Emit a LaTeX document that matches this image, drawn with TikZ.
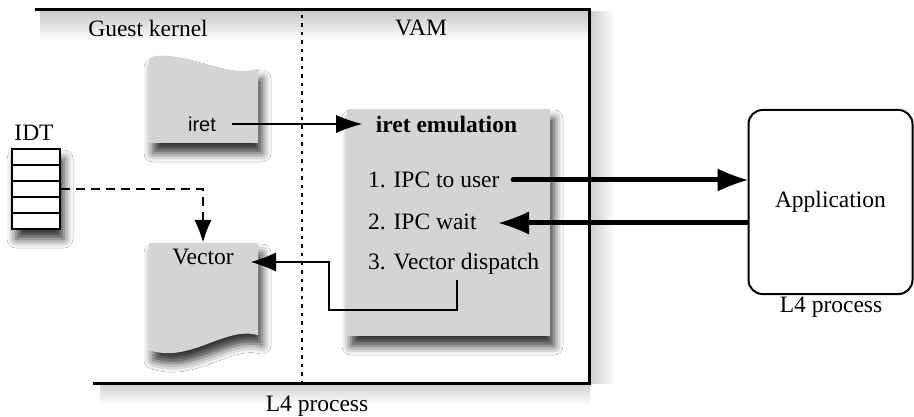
\documentclass[tikz,border=0pt]{standalone}
\usepackage{fontspec}
\setmainfont{Liberation Serif}
\newfontfamily\sansf{Liberation Sans}
\usetikzlibrary{arrows.meta,shadows.blur}
\definecolor{docgray}{RGB}{212,212,212}
\begin{document}
\begin{tikzpicture}[x=1pt,y=-1pt,
  txt/.style={font=\fontsize{23.5}{27}\selectfont, inner sep=0pt},
  shad/.style={blur shadow={shadow xshift=4pt, shadow yshift=-10pt, shadow blur radius=9pt, shadow opacity=80}},
  docshape/.style={fill=docgray, shad},
  frame/.style={line width=3pt},
  idtcell/.style={draw, line width=2.5pt, minimum width=48pt, minimum height=16pt, inner sep=0pt, fill=white},
  thin arrow/.style={line width=2pt, -{Latex[length=26pt,width=18pt,fill=black,line width=0pt]}},
  thick arrow/.style={line width=5pt, -{Latex[length=30pt,width=23pt,fill=black,line width=0pt]}},
  app/.style={draw, line width=2pt, rounded corners=14pt, minimum width=164pt, minimum height=184pt, inner sep=0pt}
]
\useasboundingbox (0,0) rectangle (914,417);
\fill[white] (0,0) rectangle (914,417);

% frame shadows
\shade[top color=black!22, bottom color=white] (40,11) rectangle (589,40);
\shade[left color=black!20, right color=white] (590,12) rectangle (614,383);
\shade[top color=black!18, bottom color=white] (100,384) rectangle (590,405);
% L4 process frame (open at left)
\draw[frame] (35,10) -- (589,10) -- (589,383) -- (93,383);

% dotted separator
\draw[line width=2.5pt, dash pattern=on 3.5pt off 5pt] (302,15) -- (302,385);

% headings
\node[txt] (gk) at (148,28) {Guest kernel};
\node[txt] (vam) at (421,28) {VAM};
\node[txt] (l4a) at (317,406) {L4 process};

% iret document shape
\path[docshape] (149,143) -- (149,58) .. controls (176,47) and (222,79) .. (258,69) -- (258,143) -- cycle;
\node[inner sep=0pt, font=\sansf\fontsize{20}{24}\selectfont] (iret) at (202,124) {iret};

% Vector document shape
\path[docshape] (149,243) -- (258,243) -- (258,335) .. controls (224,326) and (190,364) .. (149,350) -- cycle;
\node[txt] (vec) at (203,257) {Vector};

% iret emulation box
\path[docshape] (347,109) rectangle (550,336);
\node[txt, font=\bfseries\fontsize{23.5}{27}\selectfont] (emt) at (446.5,124) {iret emulation};
\node[txt, anchor=west] (s1) at (368,180) {1. IPC to user};
\node[txt, anchor=west] (s2) at (368,222) {2. IPC wait};
\node[txt, anchor=west] (s3) at (368,264) {3. Vector dispatch};

% IDT
\path[shad] (12,149) rectangle (60,229);
\node[idtcell] (idt1) at (36,157) {};
\node[idtcell] (idt2) at (36,173) {};
\node[idtcell] (idt3) at (36,189) {};
\node[idtcell] (idt4) at (36,205) {};
\node[idtcell] (idt5) at (36,221) {};
\node[txt] (idt) at (34,133) {IDT};

% Application
\node[app, txt, draw, line width=2pt] (appl) at (830.5,202) {Application};
\node[txt] (l4b) at (831,307) {L4 process};

% connectors
\coordinate (iretend) at (362,124);
\draw[thin arrow] ([xshift=16pt]iret.east) -- (iretend);

\coordinate (s1start) at (513,180);
\draw[thick arrow, line cap=round] (s1start) -- (appl.west |- s1start);
\coordinate (s2end) at (499,223);
\draw[thick arrow] (appl.west |- s2end) -- (s2end);

\coordinate (s3start) at (457,280);
\coordinate (vecend) at (251,262);
\draw[line width=2pt, -{Latex[length=25pt,width=19pt,fill=black,line width=0pt]}] (s3start) -- (457,310) -- (329,310) -- (329,262) -- (vecend);

\coordinate (vectop) at (203,242);
\draw[line width=2pt, dash pattern=on 9pt off 6pt, -{Latex[length=22pt,width=17pt,fill=black,line width=0pt]}] (idt3.east) -- (203,189) -- (vectop);
\end{tikzpicture}
\end{document}
